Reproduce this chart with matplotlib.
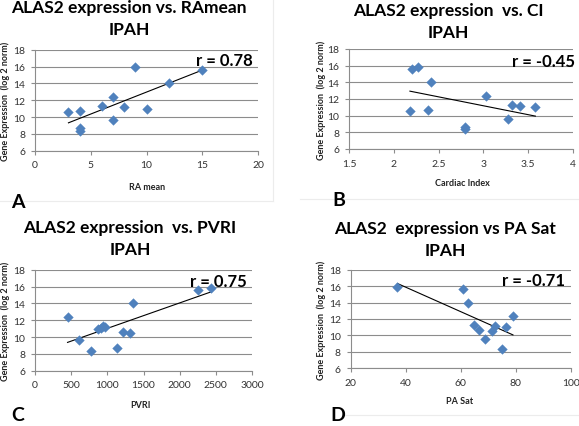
import numpy as np
import matplotlib
matplotlib.use("Agg")
import matplotlib.pyplot as plt
from matplotlib.lines import Line2D

plt.rcParams['font.family'] = ['Lato', 'DejaVu Sans']

# ---- data ----
ra_x = [3, 4, 4, 4, 6, 7, 7, 8, 9, 10, 12, 15]
ra_y = [10.6, 10.7, 8.7, 8.4, 11.3, 12.4, 9.6, 11.2, 15.9, 11.0, 14.0, 15.6]

ci_x = [2.18, 2.20, 2.27, 2.38, 2.41, 2.79, 2.80, 3.03, 3.27, 3.32, 3.41, 3.58]
ci_y = [10.6, 15.6, 15.8, 10.7, 14.0, 8.4, 8.7, 12.4, 9.6, 11.3, 11.2, 11.0]

pvri_x = [450, 610, 770, 870, 910, 940, 970, 1140, 1210, 1320, 1360, 2250, 2430]
pvri_y = [12.4, 9.6, 8.3, 11.0, 11.1, 11.3, 11.2, 8.7, 10.6, 10.5, 14.0, 15.6, 15.8]

pas_x = [37, 61, 62.5, 65, 66.5, 69, 71.5, 72.5, 75, 76.5, 79]
pas_y = [15.9, 15.6, 14.0, 11.3, 10.7, 9.6, 10.6, 11.2, 8.3, 11.0, 12.4]

titles = ["ALAS2 expression vs. RAmean\nIPAH",
          "ALAS2 expression  vs. CI\nIPAH",
          "ALAS2 expression  vs. PVRI\nIPAH",
          "ALAS2  expression vs PA Sat\nIPAH"]
xlabels = ["RA mean", "Cardiac Index", "PVRI", "PA Sat"]
r_labels = ["r = 0.78", "r = -0.45", "r = 0.75", "r = -0.71"]
letters = ["A", "B", "C", "D"]
xlims = [(0, 20), (1.5, 4), (0, 3000), (20, 100)]
xticks = [[0, 5, 10, 15, 20], [1.5, 2, 2.5, 3, 3.5, 4],
          [0, 500, 1000, 1500, 2000, 2500, 3000], [20, 40, 60, 80, 100]]
xticklabels = [["0", "5", "10", "15", "20"], ["1.5", "2", "2.5", "3", "3.5", "4"],
               ["0", "500", "1000", "1500", "2000", "2500", "3000"],
               ["20", "40", "60", "80", "100"]]
yticks = [6, 8, 10, 12, 14, 16, 18]
ylabel = "Gene Expression  (log 2 norm)"

W, H = 579, 427
fig = plt.figure(figsize=(W / 100, H / 100), dpi=100)

def fx(px):
    return px / W

def fy(py):
    return 1 - py / H

# axes boxes: left, right, top, bottom (pixels)
boxes = [(35, 258, 50.7, 151.7), (349, 573, 50, 150),
         (35, 252, 270.7, 371.7), (350.7, 570.7, 270.7, 369.3)]
title_pos = [(129, 19), (448, 22), (130, 239), (445, 240)]
xlabel_pos = [(147, 187), (462, 183), (140, 406), (460, 402)]
ylabel_x = [5, 321, 5, 321]
letter_pos = [(18, 202), (339, 200), (18, 416), (338, 416)]
r_pos = [(224, 61), (543, 62), (218, 282), (534, 281)]

datasets = [(ra_x, ra_y), (ci_x, ci_y), (pvri_x, pvri_y), (pas_x, pas_y)]
blue = '#4F81BD'
grid_c = '#8c8c8c'

for i in range(4):
    l, r, t, b = boxes[i]
    ax = fig.add_axes([fx(l), fy(b), fx(r) - fx(l), (b - t) / H])
    x, y = datasets[i]
    ax.scatter(x, y, marker='D', s=24, color=blue, edgecolor=blue, linewidth=0.3, zorder=3)
    xa = np.array(x, float)
    ya = np.array(y, float)
    k, c0 = np.polyfit(xa, ya, 1)
    xs = np.array([xa.min(), xa.max()])
    ax.plot(xs, k * xs + c0, color='black', lw=0.8, zorder=2)
    ax.set_xlim(*xlims[i])
    ax.set_ylim(6, 18)
    ax.set_xticks(xticks[i])
    ax.set_xticklabels(xticklabels[i])
    ax.set_yticks(yticks)
    ax.grid(axis='y', color=grid_c, lw=0.8)
    ax.set_axisbelow(True)
    for s in ['top', 'right']:
        ax.spines[s].set_visible(False)
    for s in ['left', 'bottom']:
        ax.spines[s].set_color(grid_c)
        ax.spines[s].set_linewidth(0.8)
    ax.tick_params(axis='both', colors=grid_c, labelcolor='#333333', labelsize=7.5,
                   length=3, width=0.8, direction='out', pad=4)
    tx, ty = title_pos[i]
    fig.text(fx(tx), fy(ty), titles[i], ha='center', va='center', fontsize=12.5,
             fontweight='bold', linespacing=1.45)
    lx, ly = xlabel_pos[i]
    fig.text(fx(lx), fy(ly), xlabels[i], ha='center', va='center', fontsize=6.5,
             fontweight='bold', color='#222222')
    fig.text(fx(ylabel_x[i]), fy((t + b) / 2), ylabel, ha='center', va='center',
             rotation=90, fontsize=6.5, fontweight='bold', color='#222222')
    px, py = letter_pos[i]
    fig.text(fx(px), fy(py), letters[i], ha='center', va='center', fontsize=14,
             fontweight='bold')
    rx, ry = r_pos[i]
    fig.text(fx(rx), fy(ry), r_labels[i], ha='center', va='center', fontsize=12,
             fontweight='bold')

# faint chart frames
frame_c = '#ececec'
fig.add_artist(Line2D([0, fx(273)], [fy(202), fy(202)], color=frame_c, lw=0.8))
fig.add_artist(Line2D([fx(273), fx(273)], [fy(0), fy(202)], color=frame_c, lw=0.8))
fig.add_artist(Line2D([fx(300), 1], [fy(200), fy(200)], color=frame_c, lw=0.8))
fig.add_artist(Line2D([fx(343), 1], [fy(416), fy(416)], color=frame_c, lw=0.8))

fig.savefig("out.png", dpi=100)
